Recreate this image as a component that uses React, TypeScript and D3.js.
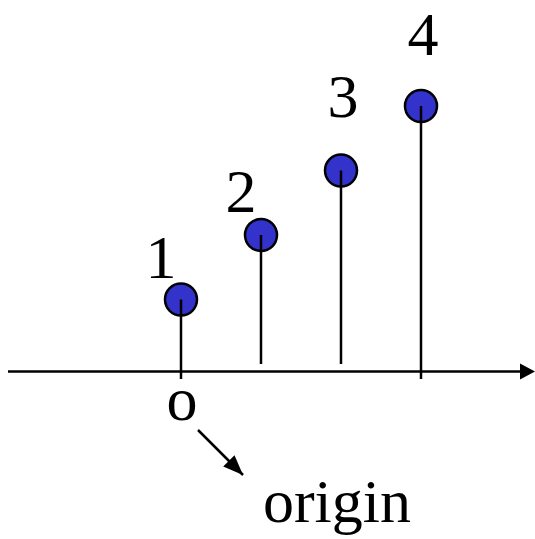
import React from "react";
import * as d3 from "d3";

const positions = [0, 1, 2, 3];
const values = [1, 2, 3, 4];
const labels = ["1", "2", "3", "4"];
const tickedPositions = [0, 3];
const originLabel = "o";
const originCaption = "origin";

export default function App() {
  const W = 535, H = 539;
  const x = d3.scaleLinear().domain([0, 3]).range([181, 421]);
  const y = d3.scaleLinear().domain([0, 4]).range([364, 106]);
  const axisY = 371.5;
  const font = "'Liberation Serif', 'Times New Roman', serif";
  const labelOffset = [
    { dx: -20, dy: -22 },
    { dx: -20, dy: -23 },
    { dx: 2, dy: -54 },
    { dx: 2, dy: -51 },
  ];
  return (
    <svg width={W} height={H} style={{ position: "absolute", left: 0, top: 0, background: "#fff" }}>
      <defs>
        <marker id="ah2" viewBox="0 0 10 10" refX="10" refY="5" markerWidth="22" markerHeight="20" orient="auto" markerUnits="userSpaceOnUse">
          <path d="M0,1 L10,5 L0,9 Z" fill="#000" />
        </marker>
      </defs>
      {/* axis */}
      <line x1={8} y1={axisY} x2={521} y2={axisY} stroke="#000" strokeWidth={2.5} />
      <path d={`M520,${axisY - 8} L535,${axisY} L520,${axisY + 8} Z`} fill="#000" />
      {/* ticks */}
      {tickedPositions.map((p) => (
        <line key={"t" + p} x1={x(p)} x2={x(p)} y1={y(0)} y2={379} stroke="#000" strokeWidth={2.5} />
      ))}
      {/* stems */}
      {positions.map((p, i) => (
        <line key={"s" + p} x1={x(p)} x2={x(p)} y1={y(0)} y2={y(values[i])} stroke="#000" strokeWidth={2.5} />
      ))}
      {/* markers */}
      {positions.map((p, i) => (
        <g key={"m" + p}>
          <circle cx={x(p)} cy={y(values[i])} r={16} fill="#3333cc" stroke="#000" strokeWidth={2.5} />
          <line x1={x(p)} x2={x(p)} y1={y(values[i])} y2={y(values[i]) + 16} stroke="#000" strokeWidth={2.5} />
        </g>
      ))}
      {/* value labels */}
      {positions.map((p, i) => (
        <text
          key={"l" + p}
          x={x(p) + labelOffset[i].dx}
          y={y(values[i]) + labelOffset[i].dy}
          textAnchor="middle"
          fontFamily={font}
          fontSize={62}
          fill="#000"
        >
          {labels[i]}
        </text>
      ))}
      {/* origin */}
      <text x={x(0) + 1} y={420} textAnchor="middle" fontFamily={font} fontSize={62} fill="#000">
        {originLabel}
      </text>
      <line x1={198} y1={430} x2={243} y2={475} stroke="#000" strokeWidth={2.5} markerEnd="url(#ah2)" />
      <text x={337} y={522} textAnchor="middle" fontFamily={font} fontSize={62} fill="#000">
        {originCaption}
      </text>
    </svg>
  );
}
